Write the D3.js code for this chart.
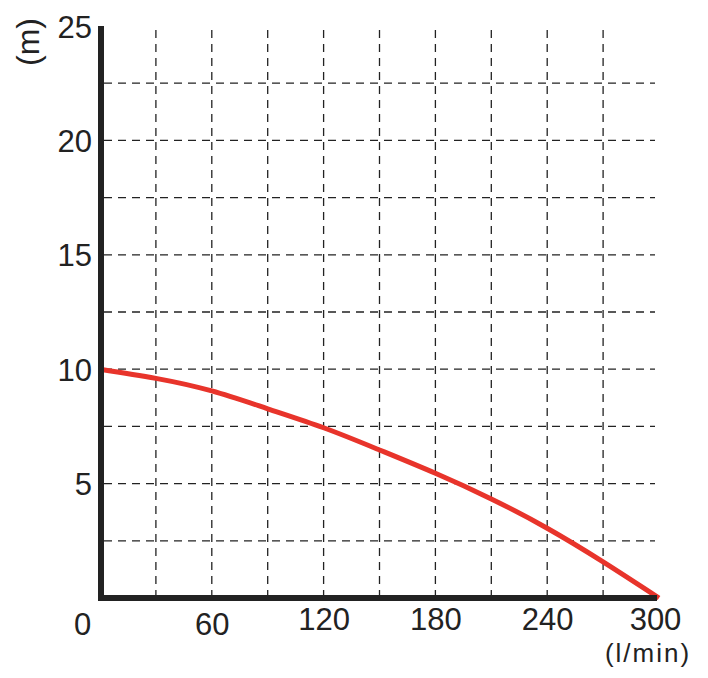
<!DOCTYPE html>
<html lang="en">
<head>
<meta charset="utf-8">
<title>Pump curve</title>
<style>
  body { margin: 0; background: #fff; }
  svg { display: block; font-family: "Liberation Sans", Arial, sans-serif; }
  .grid line { stroke: #222; stroke-width: 1.3; stroke-dasharray: 8,6; }
  .tick text { fill: #222; }
</style>
<script src="https://d3js.org/d3.v7.min.js"></script>
</head>
<body>
<script>
  // flow (l/min) and head (m)
  let flow = [0, 30, 60, 90, 120, 150, 180, 210, 240, 270, 300]
  let head = [10, 9.6, 9.05, 8.27, 7.44, 6.47, 5.45, 4.33, 3.05, 1.58, 0]
  let xTicks = [0, 60, 120, 180, 240, 300]
  let yTicks = [5, 10, 15, 20, 25]
  let xGrid = [30, 60, 90, 120, 150, 180, 210, 240, 270]
  let yGrid = [2.5, 5, 7.5, 10, 12.5, 15, 17.5, 20, 22.5]

  let width = 708
  let height = 678

  let svg = d3.select("body").append("svg")
      .attr("width", width)
      .attr("height", height)

  let x = d3.scaleLinear().domain([0, 300]).range([100, 659])
  let y = d3.scaleLinear().domain([0, 25]).range([598, 26])

  // dashed grid
  let grid = svg.append("g").attr("class", "grid")
  grid.selectAll(".v").data(xGrid).enter().append("line")
      .attr("class", "v")
      .attr("x1", d => x(d)).attr("x2", d => x(d))
      .attr("y1", y(0)).attr("y2", 28)
  grid.selectAll(".h").data(yGrid).enter().append("line")
      .attr("class", "h")
      .attr("x1", 104).attr("x2", 655)
      .attr("y1", d => y(d)).attr("y2", d => y(d))

  // curve
  let line = d3.line()
      .x((d, i) => x(flow[i]))
      .y(d => y(d))
      .curve(d3.curveNatural)

  svg.append("path")
      .datum(head)
      .attr("d", line)
      .attr("fill", "none")
      .attr("stroke", "#e8342b")
      .attr("stroke-width", 5)

  // thick axes
  svg.append("line")
      .attr("x1", x(0) + 1).attr("x2", x(0) + 1)
      .attr("y1", y(25)).attr("y2", y(0) + 3)
      .attr("stroke", "#222").attr("stroke-width", 6)
  svg.append("line")
      .attr("x1", x(0) - 2).attr("x2", x(300) - 2)
      .attr("y1", y(0)).attr("y2", y(0))
      .attr("stroke", "#222").attr("stroke-width", 6)

  // tick labels
  let yAxis = d3.axisLeft(y).tickValues(yTicks).tickSize(0).tickPadding(0)
  let gy = svg.append("g")
      .attr("transform", "translate(92,0)")
      .call(yAxis)
  gy.select(".domain").remove()
  gy.selectAll("text").attr("font-size", 31).attr("font-family", "Liberation Sans, Arial, sans-serif")
      .attr("dy", "0.36em")

  let xAxis = d3.axisBottom(x).tickValues(xTicks).tickSize(0).tickPadding(0)
  let gx = svg.append("g")
      .attr("transform", "translate(0,630)")
      .call(xAxis)
  gx.select(".domain").remove()
  gx.selectAll("text").attr("font-size", 31).attr("font-family", "Liberation Sans, Arial, sans-serif")
      .attr("y", 0).attr("dy", d => d < 100 ? 5 : 0)
      .attr("dx", d => d == 0 ? -18 : (d == 300 ? -4 : 0))

  // units
  svg.append("text")
      .text("(l/min)")
      .attr("x", 648).attr("y", 662)
      .attr("text-anchor", "middle")
      .attr("font-size", 26)
      .attr("letter-spacing", 2)
      .attr("fill", "#222")

  svg.append("text")
      .text("(m)")
      .attr("transform", "translate(39,42) rotate(-90)")
      .attr("text-anchor", "middle")
      .attr("font-size", 32)
      .attr("fill", "#222")
</script>
</body>
</html>
